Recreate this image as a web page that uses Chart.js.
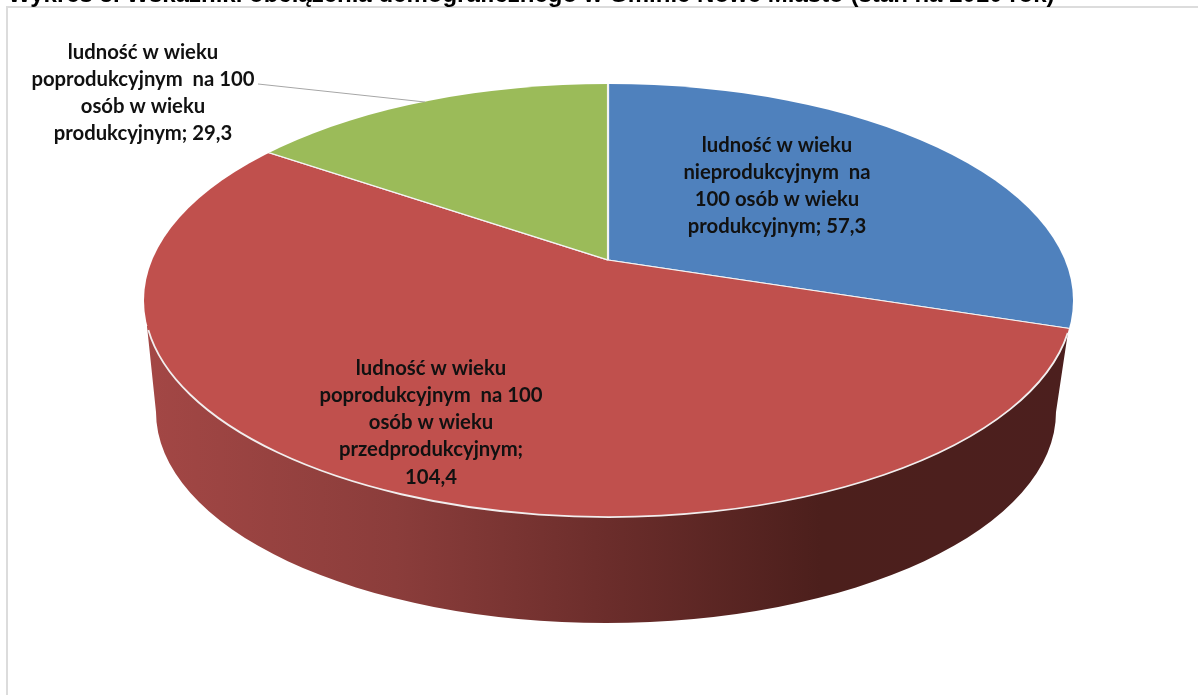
<!DOCTYPE html>
<html lang="pl">
<head>
<meta charset="utf-8">
<title>Wskaźniki obciążenia demograficznego</title>
<script src="https://cdn.jsdelivr.net/npm/chart.js@4"></script>
<style>
    html, body { margin: 0; padding: 0; background: #fff; overflow: hidden; }
    #wrap { width: 1198px; height: 695px; }
    #pieChart { filter: blur(0.5px); }
</style>
</head>
<body>
<div id="wrap"><canvas id="pieChart"></canvas></div>
<script>
const chartTitle = "Wykres 3. Wskaźniki obciążenia demograficznego w Gminie Nowe Miasto (stan na 2010 rok)";
const categories = [
    "ludność w wieku\nnieprodukcyjnym  na\n100 osób w wieku\nprodukcyjnym",
    "ludność w wieku\npoprodukcyjnym  na 100\nosób w wieku\nprzedprodukcyjnym",
    "ludność w wieku\npoprodukcyjnym  na 100\nosób w wieku\nprodukcyjnym"
];
const values = [57.3, 104.4, 29.3];
const valueSeparators = ["; ", ";\n", "; "];
const sliceColors = ["#4f81bd", "#c0504d", "#9bbb59"];

// where the flat pie lands on the page (tilted, hub sits above the ellipse centre)
const hub = { x: 608, y: 260 };
const tilt = 0.456;
const rim = { x: 608.5, y: 300.5, rx: 464.5, ry: 216.5 };
const base = { x: 606, y: 412, rx: 450, ry: 211 };
const labelCenters = [{ x: 777, y: 145 }, { x: 431, y: 368 }, { x: 143, y: 52 }];
const lineHeight = 27.3;

const pie3d = {
    id: "pie3d",
    beforeDraw(chart) {
        const ctx = chart.ctx;
        ctx.save();
        ctx.strokeStyle = "#dcdcdc";
        ctx.lineWidth = 2;
        ctx.beginPath();
        ctx.moveTo(7, 695);
        ctx.lineTo(7, 7);
        ctx.lineTo(1198, 7);
        ctx.stroke();

        ctx.fillStyle = "#000";
        ctx.font = "bold 24px 'Liberation Sans'";
        ctx.textAlign = "left";
        ctx.textBaseline = "alphabetic";
        ctx.fillText(chartTitle, 8, 2);
        ctx.restore();
    },
    beforeDatasetsDraw(chart) {
        const ctx = chart.ctx;
        const arc = chart.getDatasetMeta(0).data[0];

        // side wall of the red slice
        const grad = ctx.createLinearGradient(146, 0, 1070, 0);
        grad.addColorStop(0, "#a34745");
        grad.addColorStop(0.27, "#8b3d3b");
        grad.addColorStop(0.5, "#6b2d2b");
        grad.addColorStop(0.73, "#4c1f1c");
        grad.addColorStop(1, "#4c1f1e");
        ctx.save();
        ctx.fillStyle = grad;
        ctx.beginPath();
        ctx.moveTo(147, 326);
        ctx.lineTo(base.x - base.rx, base.y);
        ctx.ellipse(base.x, base.y, base.rx, base.ry, 0, Math.PI, 0, true);
        ctx.lineTo(1068, 332);
        ctx.closePath();
        ctx.fill();
        ctx.restore();

        // top face: library arcs squashed around the hub, cut by the rim ellipse
        const s = 620 / arc.outerRadius;
        ctx.save();
        ctx.beginPath();
        ctx.ellipse(rim.x, rim.y, rim.rx, rim.ry, 0, 0, Math.PI * 2);
        ctx.clip();
        ctx.translate(hub.x, hub.y);
        ctx.scale(s, s * tilt);
        ctx.translate(-arc.x, -arc.y);
    },
    afterDatasetsDraw(chart) {
        const ctx = chart.ctx;
        ctx.restore();

        // white edge of the red slice
        ctx.save();
        ctx.strokeStyle = "#f2eeee";
        ctx.lineWidth = 1.8;
        ctx.beginPath();
        ctx.ellipse(rim.x, rim.y, rim.rx, rim.ry, 0, 0.15, 3.005);
        ctx.stroke();

        // leader line for the green slice
        ctx.strokeStyle = "#a6a6a6";
        ctx.lineWidth = 1;
        ctx.beginPath();
        ctx.moveTo(258, 84);
        ctx.lineTo(425, 102);
        ctx.stroke();

        // data labels
        ctx.fillStyle = "#111";
        ctx.font = "bold 20.3px Lato";
        ctx.textAlign = "center";
        ctx.textBaseline = "middle";
        categories.forEach((cat, i) => {
            const text = cat + valueSeparators[i] + String(values[i]).replace(".", ",");
            text.split("\n").forEach((line, n) => {
                ctx.fillText(line, labelCenters[i].x, labelCenters[i].y + n * lineHeight);
            });
        });
        ctx.restore();
    }
};

new Chart(document.getElementById("pieChart").getContext("2d"), {
    type: "pie",
    data: {
        labels: categories,
        datasets: [{
            data: values,
            backgroundColor: sliceColors,
            borderColor: "#f4f4f4",
            borderWidth: 1.2
        }]
    },
    options: {
        responsive: true,
        maintainAspectRatio: false,
        animation: false,
        plugins: { legend: { display: false }, tooltip: { enabled: false } }
    },
    plugins: [pie3d]
});
</script>
</body>
</html>
